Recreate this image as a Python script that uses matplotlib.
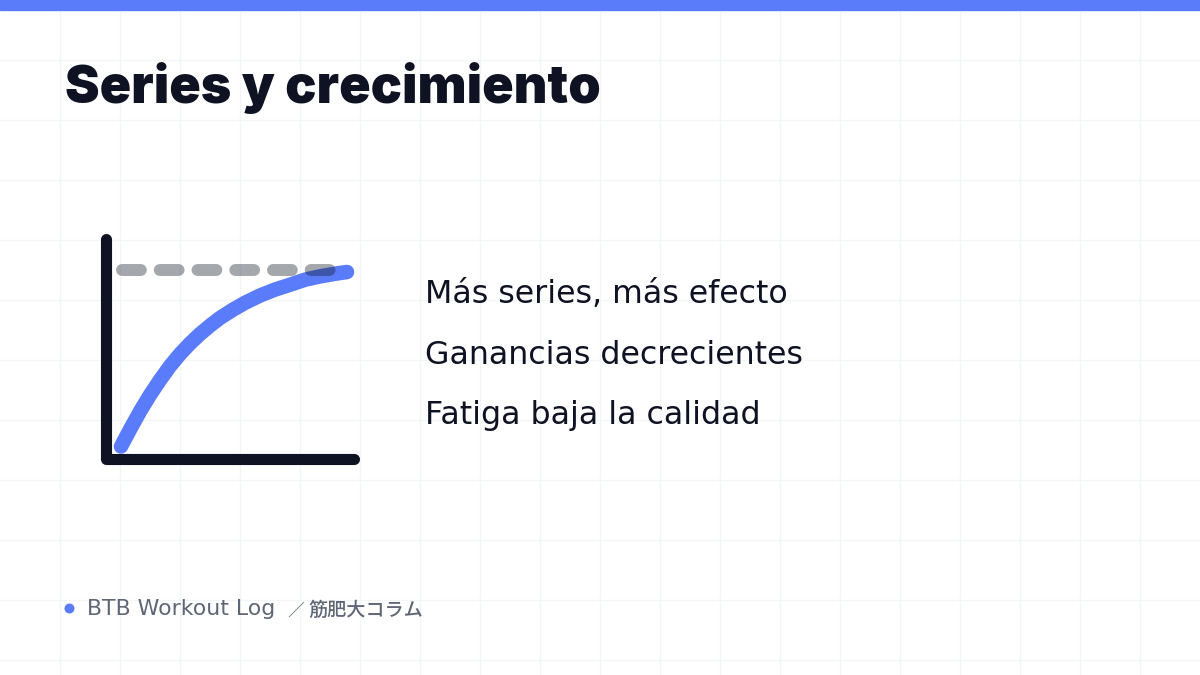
import numpy as np
import matplotlib.pyplot as plt
from matplotlib.patches import Rectangle

plt.rcParams['font.family'] = ['DejaVu Sans', 'Noto Sans CJK JP']

# diagram values (axis units 0..10)
curve_x = [0.60, 0.96, 1.36, 1.76, 2.16, 2.56, 2.96, 3.36, 3.76, 4.16, 4.56, 5.04,
           5.56, 6.16, 6.76, 7.36, 7.96, 8.56, 9.16, 9.64]
curve_y = [0.57, 1.34, 2.16, 2.91, 3.59, 4.22, 4.77, 5.25, 5.68, 6.06, 6.41, 6.76,
           7.10, 7.43, 7.70, 7.92, 8.15, 8.30, 8.42, 8.50]
ceiling_x = [0.64, 9.24]
ceiling_y = [8.59, 8.59]
axis_x = [0, 0, 9.9]
axis_y = [10, 0, 0]

title = "Series y crecimiento"
points = ["Más series, más efecto", "Ganancias decrecientes", "Fatiga baja la calidad"]
footer_brand = "BTB Workout Log"
footer_sep = "／"
footer_topic = "筋肥大コラム"

blue = '#5b7cfa'
ink = '#0f1222'
grey_text = '#5f6675'

W, H = 1200, 675
fig = plt.figure(figsize=(12, 6.75), dpi=100)
fig.patch.set_facecolor('white')

# background grid, in pixel units
bg = fig.add_axes([0, 0, 1, 1])
bg.set_xlim(0, W)
bg.set_ylim(H, 0)
bg.set_xticks(np.arange(60, W, 60))
bg.set_yticks(np.arange(60, H, 60))
bg.grid(True, color='#f4f5f7', linewidth=1)
bg.tick_params(length=0, labelbottom=False, labelleft=False)
for s in bg.spines.values():
    s.set_visible(False)
bg.set_zorder(0)

# top bar
fig.patches.append(Rectangle((0, 1 - 10 / H), 1, 10 / H, transform=fig.transFigure,
                             color=blue, zorder=5))

fig.text(65 / W, 1 - 103 / H, title, fontsize=37.4, fontweight='black', color=ink,
         family=['Inter', 'Noto Sans CJK JP'], va='baseline', ha='left')

# small diagram
ax = fig.add_axes([106 / W, 1 - 459 / H, 250 / W, 220 / H])
ax.set_xlim(0, 10)
ax.set_ylim(0, 10)
ax.axis('off')
ax.patch.set_alpha(0)
ax.plot(axis_x, axis_y, color=ink, lw=8, solid_capstyle='round', solid_joinstyle='round',
        clip_on=False, zorder=2)
ax.plot(curve_x, curve_y, color=blue, lw=10.5, solid_capstyle='round',
        solid_joinstyle='round', clip_on=False, zorder=3)
dash, = ax.plot(ceiling_x, ceiling_y, color='#111827', alpha=0.38, lw=8.6,
                dash_capstyle='round', clip_on=False, zorder=4)
dash.set_dashes((1.58, 1.58))

for i, t in enumerate(points):
    fig.text(425 / W, 1 - (303 + 60.5 * i) / H, t, fontsize=22.8,
             color=ink, va='baseline', ha='left')

# footer
bg.plot([69], [608], 'o', color=blue, ms=7.2, mew=0)
fig.text(87 / W, 1 - 615 / H, footer_brand, fontsize=15.8, color=grey_text,
         va='baseline', ha='left')
fig.text(296 / W, 1 - 615.5 / H, footer_sep, fontsize=12, color=grey_text,
         family=['Noto Sans CJK JP'], va='baseline', ha='center')
fig.text(423 / W, 1 - 615.5 / H, footer_topic, fontsize=13.8, color=grey_text,
         family=['Noto Sans CJK JP'], fontweight='medium', va='baseline', ha='right')

fig.savefig('out.png', dpi=100)
